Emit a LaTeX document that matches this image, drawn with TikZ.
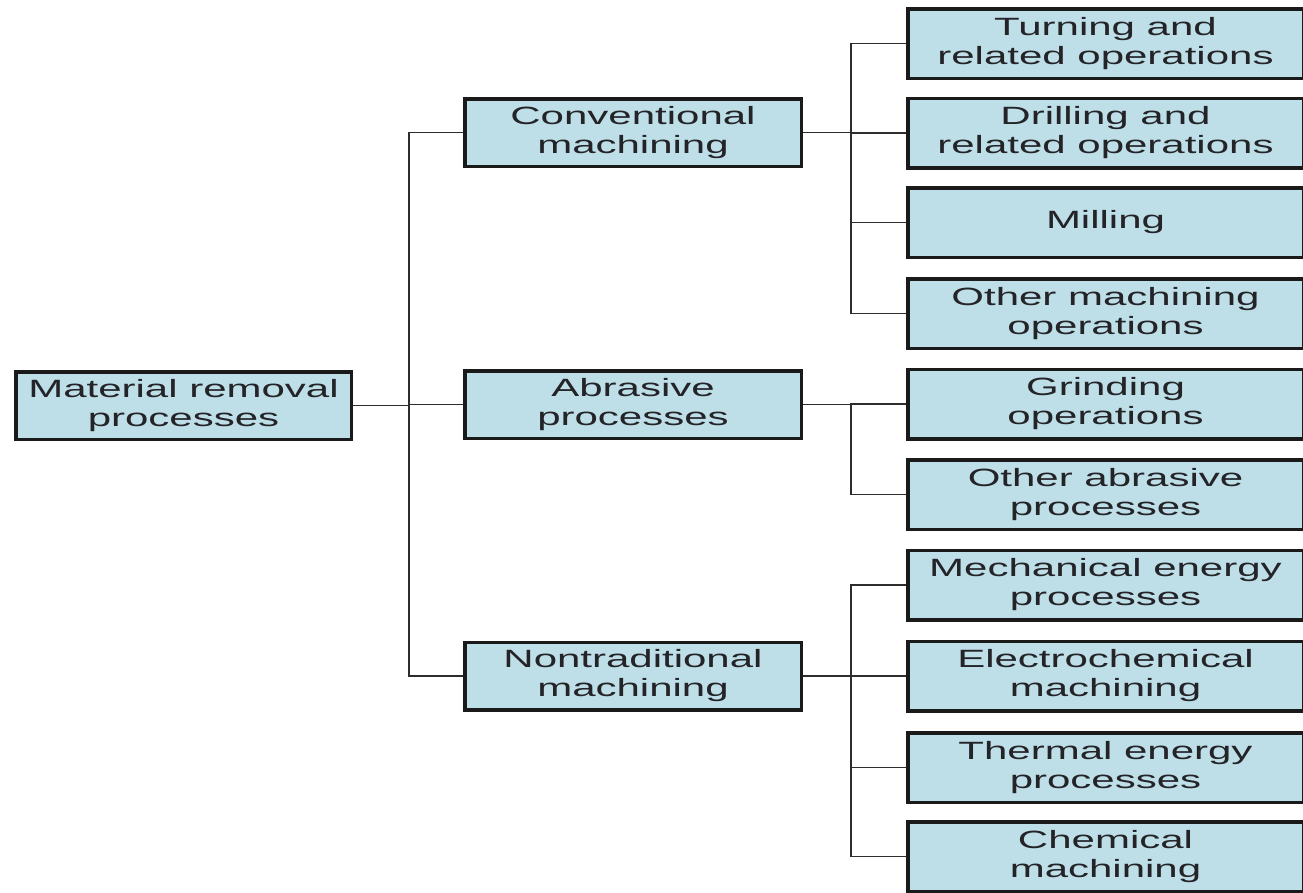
\documentclass[tikz,border=0pt]{standalone}
\usepackage{fontspec}
\setmainfont{Liberation Sans}[FakeStretch=1.68]
\definecolor{boxfill}{RGB}{190,223,231}
\definecolor{boxline}{RGB}{26,26,26}
\definecolor{linkline}{RGB}{45,45,45}
\definecolor{textcol}{RGB}{35,35,40}

\begin{document}
\begin{tikzpicture}[x=1pt, y=-1pt,
		procbox/.style={draw=boxline, line width=3.5pt, fill=boxfill, text=textcol, align=center, inner sep=0pt, font=\fontsize{25}{29}\selectfont},
		rootbox/.style={procbox, minimum width=335.5pt, minimum height=67.5pt},
		midbox/.style={procbox, minimum width=336.5pt, minimum height=67.5pt},
		leafbox/.style={procbox, minimum width=395.5pt, minimum height=69.5pt},
		link/.style={draw=linkline, line width=1.8pt}]
		%%%%% START %%%%%
		
		\clip (0, 0) rectangle (1303, 892);
		
		\coordinate (spine) at (409, 0);
		\coordinate (branch) at (851, 0);
		
		\node[rootbox] (root) at (183.5, 405.5) {Material removal\\processes};
		
		\node[midbox] (conv) at (633, 132.5) {Conventional\\machining};
		\node[midbox] (abr) at (633, 404.5) {Abrasive\\processes};
		\node[midbox] (nontrad) at (633, 676) {Nontraditional\\machining};
		
		\node[leafbox] (turn) at (1105.5, 43.5) {Turning and\\related operations};
		\node[leafbox] (drill) at (1105.5, 133) {Drilling and\\related operations};
		\node[leafbox] (mill) at (1105.5, 222.5) {Milling};
		\node[leafbox] (othmach) at (1105.5, 313.5) {Other machining\\operations};
		\node[leafbox] (grind) at (1105.5, 404) {Grinding\\operations};
		\node[leafbox] (othabr) at (1105.5, 494.5) {Other abrasive\\processes};
		\node[leafbox] (mech) at (1105.5, 585) {Mechanical energy\\processes};
		\node[leafbox] (elec) at (1105.5, 676) {Electrochemical\\machining};
		\node[leafbox] (therm) at (1105.5, 767.5) {Thermal energy\\processes};
		\node[leafbox] (chem) at (1105.5, 856.5) {Chemical\\machining};
		
		% root to the three families
		\draw[link] (root.east) -- (root.east -| spine);
		\draw[link] (conv.west) -| (spine |- nontrad.west) -- (nontrad.west);
		\draw[link] (abr.west) -- (abr.west -| spine);
		
		% conventional machining
		\draw[link] (conv.east) -- (conv.east -| branch);
		\draw[link] (turn.west) -| (branch |- othmach.west) -- (othmach.west);
		\draw[link] (drill.west) -- (drill.west -| branch);
		\draw[link] (mill.west) -- (mill.west -| branch);
		
		% abrasive
		\draw[link] (abr.east) -- (abr.east -| branch);
		\draw[link] (grind.west) -| (branch |- othabr.west) -- (othabr.west);
		
		% nontraditional
		\draw[link] (nontrad.east) -- (nontrad.east -| branch);
		\draw[link] (mech.west) -| (branch |- chem.west) -- (chem.west);
		\draw[link] (elec.west) -- (elec.west -| branch);
		\draw[link] (therm.west) -- (therm.west -| branch);
		
		%%%%% END %%%%%
	\end{tikzpicture}
\end{document}
